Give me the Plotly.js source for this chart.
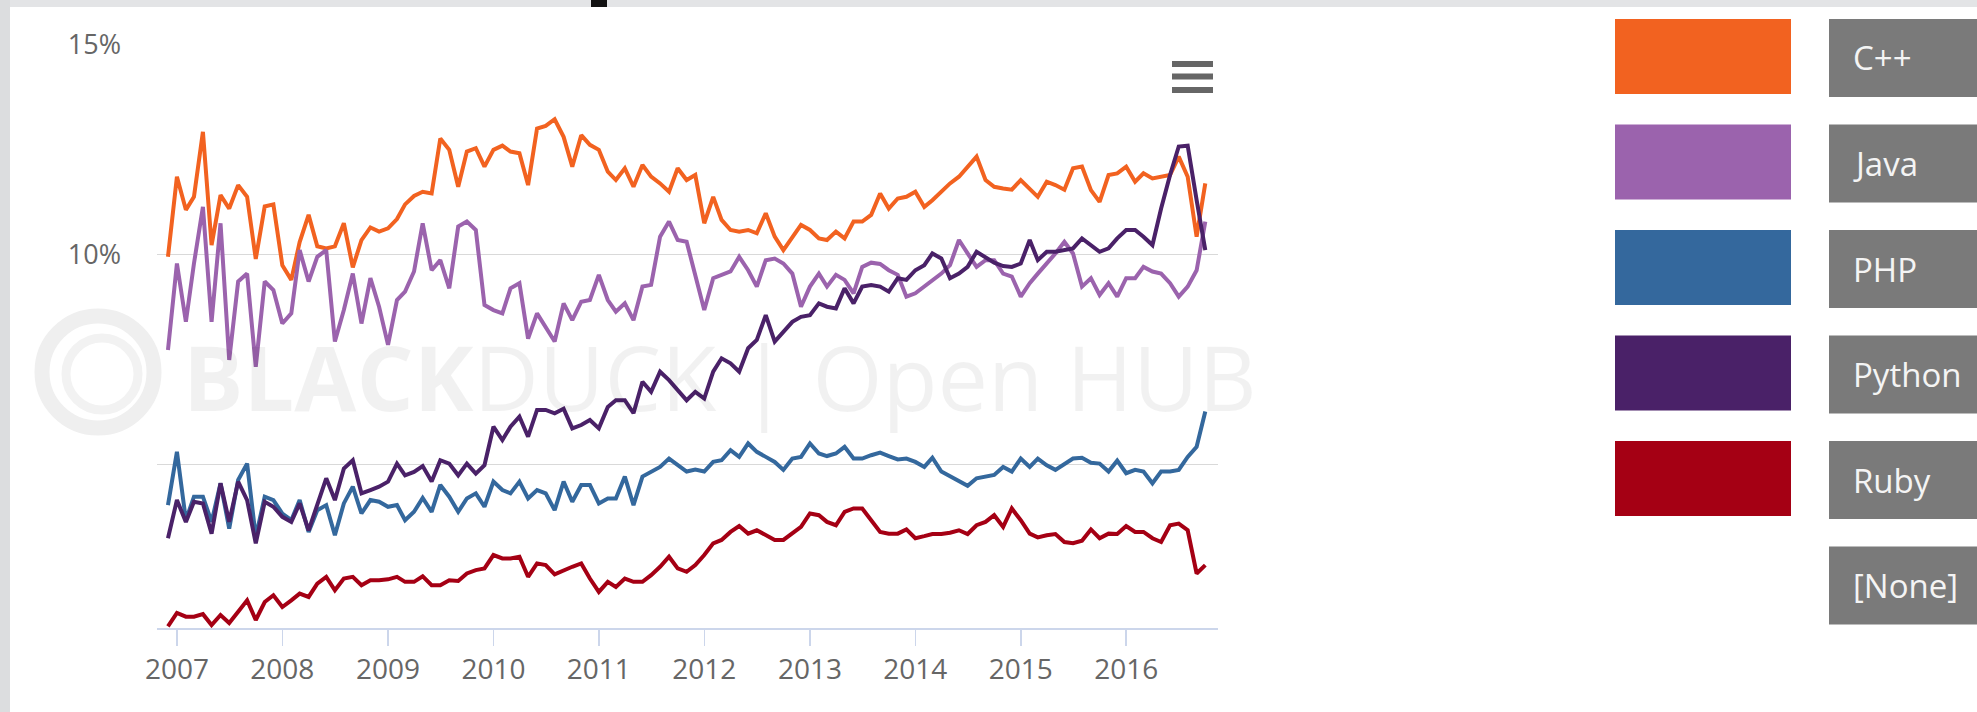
<!DOCTYPE html>
<html><head><meta charset="utf-8">
<script src="https://cdn.plot.ly/plotly-3.0.1.min.js"></script>
<style>html,body{margin:0;padding:0;background:#fff;overflow:hidden}#chart{width:1977px;height:712px}</style>
</head><body><div id="chart"></div>
<script>
// ---- data ----
const firstMonth = [2006, 12];   // monthly series, Dec 2006 .. Oct 2016
const monthCount = 119;
const months = [];
for (let i = 0; i < monthCount; i++) {
  const d = new Date(Date.UTC(firstMonth[0], firstMonth[1] - 1 + i, 1));
  months.push(d.toISOString().slice(0, 10));
}
const languages = ['C++', 'Java', 'PHP', 'Python', 'Ruby'];
const legendLabels = ['C++', 'Java', 'PHP', 'Python', 'Ruby', '[None]'];
const yearTicks = ['2007-01-01','2008-01-01','2009-01-01','2010-01-01','2011-01-01','2012-01-01','2013-01-01','2014-01-01','2015-01-01','2016-01-01'];
const yearLabels = ['2007','2008','2009','2010','2011','2012','2013','2014','2015','2016'];
const yTickVals = [5, 10, 15];
const yTickText = ['', '10%', '15%'];

const cpp = [9.95, 11.86, 11.07, 11.38, 12.93, 10.23, 11.42, 11.1, 11.66, 11.38, 9.9, 11.15, 11.2, 9.75, 9.4, 10.3, 10.95, 10.2, 10.15, 10.2, 10.75, 9.7, 10.35, 10.65, 10.55, 10.63, 10.85, 11.2, 11.4, 11.5,
11.46, 12.77, 12.5, 11.62, 12.46, 12.54, 12.1, 12.5, 12.6, 12.46, 12.42, 11.66, 13.01, 13.07, 13.23, 12.81, 12.1, 12.85, 12.62, 12.5, 11.98, 11.78, 12.06, 11.62, 12.14, 11.86, 11.7, 11.5, 12.06, 11.78,
11.9, 10.75, 11.38, 10.83, 10.59, 10.55, 10.59, 10.51, 10.99, 10.43, 10.11, 10.43, 10.71, 10.59, 10.39, 10.35, 10.55, 10.39, 10.79, 10.79, 10.95, 11.46, 11.1, 11.34, 11.38, 11.5, 11.14, 11.3, 11.5,
11.7, 11.86, 12.1, 12.34, 11.78, 11.62, 11.58, 11.55, 11.78, 11.58, 11.38, 11.74, 11.66, 11.55, 12.06, 12.1, 11.54, 11.26, 11.9, 11.94, 12.1, 11.74, 11.94, 11.82, 11.86, 11.9, 12.34, 11.86, 10.43, 11.7];

const java = [7.73, 9.79, 8.4, 9.79, 11.14, 8.4, 10.75, 7.49, 9.36, 9.55, 7.33, 9.36, 9.16, 8.36, 8.6, 10.11, 9.36, 9.95, 10.11, 7.93, 8.68, 9.55, 8.36, 9.44, 8.76, 7.85, 8.92, 9.12, 9.6, 10.75,
9.63, 9.87, 9.2, 10.67, 10.79, 10.59, 8.8, 8.68, 8.6, 9.2, 9.32, 8.0, 8.6, 8.28, 7.93, 8.84, 8.44, 8.88, 8.92, 9.52, 8.92, 8.64, 8.84, 8.44, 9.24, 9.28, 10.43, 10.79, 10.35, 10.31,
9.55, 8.68, 9.44, 9.52, 9.6, 9.95, 9.63, 9.24, 9.87, 9.91, 9.79, 9.55, 8.76, 9.24, 9.55, 9.24, 9.52, 9.4, 9.08, 9.71, 9.81, 9.78, 9.63, 9.52, 9.0, 9.08, 9.24, 9.4, 9.55,
9.75, 10.35, 10.03, 9.71, 9.87, 9.87, 9.55, 9.48, 9.0, 9.32, 9.55, 9.79, 10.03, 10.31, 10.03, 9.24, 9.44, 9.04, 9.32, 9.0, 9.44, 9.44, 9.71, 9.6, 9.55, 9.32, 9.0, 9.24, 9.63, 10.79];

const php = [4.03, 5.3, 3.67, 4.23, 4.23, 3.63, 4.55, 3.47, 4.63, 5.02, 3.27, 4.23, 4.15, 3.83, 3.67, 4.15, 3.39, 3.91, 4.03, 3.31, 4.07, 4.47, 3.83, 4.15, 4.11, 3.99, 4.03, 3.67, 3.87, 4.2,
3.87, 4.51, 4.23, 3.87, 4.19, 4.31, 3.99, 4.59, 4.39, 4.31, 4.59, 4.19, 4.39, 4.31, 3.91, 4.59, 4.11, 4.51, 4.51, 4.07, 4.19, 4.19, 4.71, 4.03, 4.71, 4.83, 4.94, 5.14, 4.98, 4.83,
4.88, 4.83, 5.06, 5.1, 5.34, 5.18, 5.5, 5.3, 5.18, 5.06, 4.87, 5.14, 5.18, 5.5, 5.26, 5.2, 5.26, 5.42, 5.14, 5.14, 5.22, 5.28, 5.2, 5.12, 5.14, 5.06, 4.94, 5.16, 4.83,
4.72, 4.6, 4.49, 4.67, 4.72, 4.75, 4.94, 4.83, 5.14, 4.94, 5.14, 4.98, 4.87, 5.02, 5.14, 5.16, 5.04, 5.02, 4.83, 5.09, 4.79, 4.87, 4.83, 4.55, 4.83, 4.83, 4.87, 5.18, 5.42, 6.26];

const python = [3.24, 4.15, 3.63, 4.11, 4.07, 3.35, 4.55, 3.63, 4.59, 4.15, 3.12, 4.11, 3.99, 3.75, 3.63, 4.07, 3.43, 4.07, 4.67, 4.15, 4.9, 5.1, 4.31, 4.39, 4.47, 4.59, 5.02, 4.74, 4.82, 4.96,
4.59, 5.1, 5.02, 4.74, 5.02, 4.78, 4.98, 5.9, 5.58, 5.9, 6.14, 5.66, 6.3, 6.3, 6.22, 6.33, 5.86, 5.94, 6.06, 5.86, 6.37, 6.53, 6.53, 6.22, 6.97, 6.73, 7.21, 7.01, 6.77, 6.53,
6.73, 6.57, 7.21, 7.53, 7.41, 7.21, 7.77, 7.97, 8.56, 7.93, 8.16, 8.4, 8.52, 8.56, 8.84, 8.76, 8.72, 9.2, 8.84, 9.24, 9.28, 9.24, 9.12, 9.44, 9.4, 9.63, 9.75, 10.03, 9.91,
9.44, 9.55, 9.71, 10.07, 9.95, 9.81, 9.73, 9.71, 9.79, 10.35, 9.87, 10.07, 10.07, 10.11, 10.15, 10.39, 10.23, 10.07, 10.15, 10.39, 10.59, 10.59, 10.43, 10.23, 11.1, 11.9, 12.58, 12.6, 11.3, 10.11];

const ruby = [1.14, 1.46, 1.37, 1.37, 1.43, 1.17, 1.41, 1.22, 1.49, 1.76, 1.29, 1.72, 1.88, 1.6, 1.76, 1.92, 1.84, 2.16, 2.32, 2.0, 2.28, 2.32, 2.12, 2.24, 2.24, 2.26, 2.32, 2.2, 2.2, 2.33,
2.12, 2.12, 2.24, 2.22, 2.4, 2.48, 2.52, 2.84, 2.76, 2.76, 2.8, 2.32, 2.64, 2.6, 2.38, 2.48, 2.56, 2.64, 2.28, 1.96, 2.2, 2.08, 2.28, 2.2, 2.2, 2.36, 2.56, 2.8, 2.52, 2.44,
2.6, 2.84, 3.12, 3.2, 3.39, 3.53, 3.35, 3.43, 3.31, 3.2, 3.2, 3.35, 3.51, 3.83, 3.79, 3.63, 3.55, 3.87, 3.95, 3.95, 3.67, 3.39, 3.35, 3.35, 3.45, 3.24, 3.29, 3.34, 3.34,
3.37, 3.43, 3.34, 3.55, 3.63, 3.79, 3.51, 3.95, 3.67, 3.35, 3.26, 3.31, 3.34, 3.15, 3.12, 3.18, 3.45, 3.24, 3.35, 3.34, 3.53, 3.39, 3.39, 3.24, 3.15, 3.55, 3.59, 3.43, 2.4, 2.6];

const seriesValues = [cpp, java, php, python, ruby];
const seriesColors = ['#f26220', '#9b63ad', '#34689d', '#4a2168', '#a50014'];

// ---- layout geometry (pixels) ----
const W = 1977, H = 712;
const M = {l: 157, r: 759, t: 45, b: 84};
const PW = W - M.l - M.r, PH = H - M.t - M.b;
const px = x => (x - M.l) / PW;
const py = y => (H - M.b - y) / PH;

const traces = languages.map((name, i) => ({
  type: 'scatter', mode: 'lines', name: name,
  x: months, y: seriesValues[i],
  line: {color: seriesColors[i], width: 4},
  hoverinfo: 'skip'
}));

const shapes = [];
const annotations = [];
// page frame strips
shapes.push({type:'rect', xref:'paper', yref:'paper', x0:px(0), x1:px(W), y0:py(7), y1:py(0), fillcolor:'#e3e4e6', line:{width:0}, layer:'below'});
shapes.push({type:'rect', xref:'paper', yref:'paper', x0:px(0), x1:px(10), y0:py(H), y1:py(0), fillcolor:'#dcdddf', line:{width:0}, layer:'below'});
shapes.push({type:'rect', xref:'paper', yref:'paper', x0:px(591), x1:px(607), y0:py(7), y1:py(0), fillcolor:'#111111', line:{width:0}});
// watermark logo
shapes.push({type:'circle', xref:'paper', yref:'paper', x0:px(42), x1:px(154), y0:py(428), y1:py(316), line:{color:'#efefef', width:15}, layer:'below'});
shapes.push({type:'circle', xref:'paper', yref:'paper', x0:px(66), x1:px(138), y0:py(410), y1:py(338), line:{color:'#f2f2f2', width:9}, layer:'below'});
annotations.push({xref:'paper', yref:'paper', x:px(181), y:py(376), xanchor:'left', yanchor:'middle', showarrow:false,
  text:'<b>BLACK</b>DUCK | Open HUB', font:{family:'Open Sans', size:90, color:'rgba(0,0,0,0.055)'}});
// menu icon
[[61,67],[73.5,79.5],[87,93]].forEach(b => shapes.push({type:'rect', xref:'paper', yref:'paper', x0:px(1172), x1:px(1213), y0:py(b[1]), y1:py(b[0]), fillcolor:'#666666', line:{width:0}}));
// legend
const rowTop = 19, rowStep = 105.5;
legendLabels.forEach((lab, i) => {
  const top = rowTop + rowStep * i;
  if (i < seriesColors.length) {
    shapes.push({type:'rect', xref:'paper', yref:'paper', x0:px(1615), x1:px(1791), y0:py(top + 75), y1:py(top), fillcolor:seriesColors[i], line:{width:0}});
  }
  shapes.push({type:'rect', xref:'paper', yref:'paper', x0:px(1829), x1:px(W + 5), y0:py(top + 78), y1:py(top), fillcolor:'#7a7a7a', line:{width:0}});
  annotations.push({xref:'paper', yref:'paper', x:px(1851), y:py(top + 39), xanchor:'left', yanchor:'middle', showarrow:false,
    text:lab, font:{family:'Open Sans', size:33, color:'#f4f4f4'}});
});

const layout = {
  width: W, height: H,
  margin: M,
  paper_bgcolor: '#ffffff', plot_bgcolor: '#ffffff',
  showlegend: false,
  font: {family: 'Open Sans', color: '#666666'},
  xaxis: {
    type: 'date', range: ['2006-10-24', '2016-11-14'],
    tickvals: yearTicks, ticktext: yearLabels,
    ticks: 'outside', ticklen: 16, tickwidth: 1.5, tickcolor: '#ccd6eb',
    showgrid: false, showline: true, linecolor: '#ccd6eb', linewidth: 1.5,
    tickfont: {family: 'Open Sans', size: 28, color: '#666666'},
    ticklabelstandoff: 0, zeroline: false, fixedrange: true
  },
  yaxis: {
    range: [1.1, 15], tickvals: yTickVals, ticktext: yTickText,
    showgrid: true, gridcolor: '#d9d9d9', gridwidth: 1.5,
    showline: false, zeroline: false, ticks: '',
    tickfont: {family: 'Open Sans', size: 27, color: '#666666'},
    ticklabelstandoff: 35, fixedrange: true
  },
  shapes: shapes,
  annotations: annotations
};

Plotly.newPlot('chart', traces, layout, {displayModeBar: false, staticPlot: true});
</script>
</body></html>
